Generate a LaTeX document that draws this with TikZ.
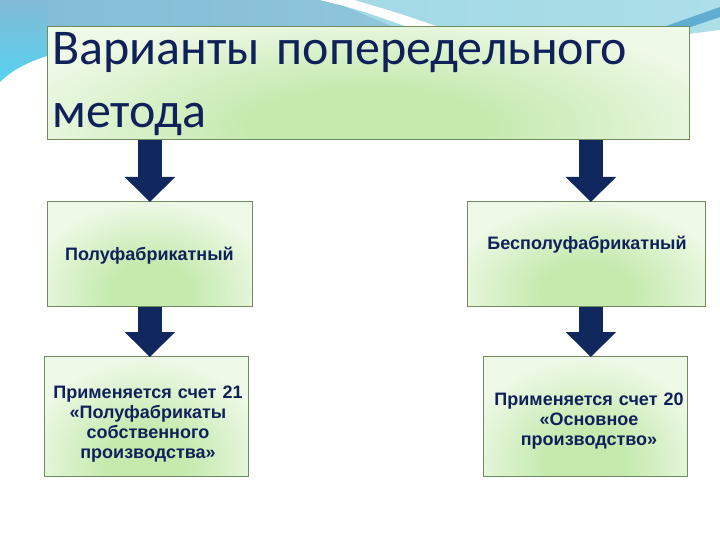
\documentclass[tikz,border=0pt]{standalone}
\usepackage{fontspec}
\setmainfont{Liberation Sans}
\newfontfamily\titlefont{Carlito}
\usetikzlibrary{arrows.meta}
\definecolor{navy}{HTML}{10215A}
\definecolor{arrowc}{HTML}{10285E}
\definecolor{boxline}{HTML}{6E8C5E}
\definecolor{boxbg}{HTML}{EFF9E7}
\definecolor{boxgreen}{HTML}{C4EAAE}
\definecolor{bandl}{HTML}{84BBD6}
\definecolor{bandm}{HTML}{8EC6DC}
\definecolor{bandn}{HTML}{A2D9E6}
\definecolor{bandr}{HTML}{ACDFE8}
\definecolor{cyanw}{HTML}{55D2F0}
\definecolor{streak}{HTML}{5FAED2}
\pgfdeclareradialshading{boxglow}{\pgfpoint{0bp}{0bp}}{color(0bp)=(boxgreen); color(7bp)=(boxgreen); color(22bp)=(boxbg); color(50bp)=(boxbg)}
\begin{document}
\begin{tikzpicture}[x=1pt,y=-1pt,
  box/.style 2 args={draw=boxline, line width=0.8pt, fill=boxbg, inner sep=0pt, anchor=north west,
    path picture={\shade[shading=boxglow]
      ([xshift=-#1,yshift={14pt-#2}]path picture bounding box.south) rectangle
      ([xshift=#1,yshift={14pt+#2}]path picture bounding box.south);}},
  bigarrow/.style={draw=arrowc, line width=24pt, -{Triangle[width=49pt,length=25pt]}},
  btxt/.style={font=\bfseries\fontsize{18}{20}\selectfont, text=navy, align=center, inner sep=0pt, anchor=base}]
\useasboundingbox (0,0) rectangle (720,540);
% background decoration
\shade[left color=bandl, right color=bandm] (0,0) -- (340,0) -- (420,34) -- (0,34) -- cycle;
\shade[left color=bandn, right color=bandr] (330,0) -- (720,0) -- (720,34) -- (410,34) -- cycle;
\shade[top color=bandl, bottom color=cyanw] (0,0) -- (47,0) -- (47,56) .. controls (28,62) and (12,70) .. (0,82) -- cycle;
\fill[white] (320,0) .. controls (360,10) .. (405,26) -- (436,26) .. controls (395,12) .. (354,0) -- cycle;
\fill[streak] (655,30) -- (720,7) -- (720,17) -- (670,34) -- cycle;
\fill[white] (689,34) -- (720,34) -- (720,30) -- cycle;
% boxes
\node[box={420pt}{130pt}, minimum width=642pt, minimum height=113pt] (title) at (47,26) {};
\node[box={140pt}{105pt}, minimum width=205pt, minimum height=105pt] (lt) at (47,201) {};
\node[box={160pt}{105pt}, minimum width=238pt, minimum height=105pt] (rt) at (467,201) {};
\node[box={140pt}{120pt}, minimum width=204pt, minimum height=120pt] (lb) at (44,356) {};
\node[box={140pt}{120pt}, minimum width=204pt, minimum height=120pt] (rb) at (483,356) {};
% texts
\node[font=\titlefont\fontsize{50}{63}\selectfont, text=navy, text width=630pt, align=left, inner sep=0pt, anchor=base west] (tt) at (52,65) {Варианты попередельного\\метода};
\node[btxt] (ltt) at (149.5,260) {Полуфабрикатный};
\node[btxt] (rtt) at (587,249) {Бесполуфабрикатный};
\node[btxt, text width=210pt] (lbt) at (148,398) {Применяется счет 21\\«Полуфабрикаты\\собственного\\производства»};
\node[btxt, text width=210pt] (rbt) at (589,405) {Применяется счет 20\\«Основное\\производство»};
% arrows
\coordinate (rtn) at ([xshift=4.5pt,yshift=-1pt]rt.north);
\coordinate (rts) at ([xshift=4.5pt]rt.south);
\draw[bigarrow] (title.south -| lt.north) -- ([yshift=-1pt]lt.north);
\draw[bigarrow] (title.south -| rtn) -- (rtn);
\draw[bigarrow] (lt.south) -- ([yshift=-1pt]lt.south |- lb.north);
\draw[bigarrow] (rts) -- ([yshift=-1pt]rts |- rb.north);
\end{tikzpicture}
\end{document}
